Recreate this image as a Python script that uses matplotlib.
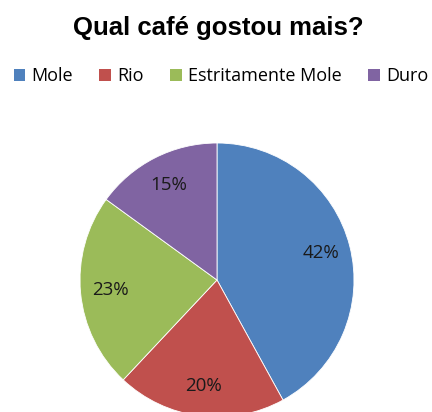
import matplotlib.pyplot as plt
from matplotlib.patches import Patch

# dados do gráfico
categorias = ['Mole', 'Rio', 'Estritamente Mole', 'Duro']
valores = [42, 20, 23, 15]
cores = ['#4F81BD', '#C0504D', '#9BBB59', '#8064A2']

plt.rcParams['font.family'] = ['Open Sans', 'DejaVu Sans']

fig = plt.figure(figsize=(4.32, 4.12), dpi=100)
W, H = 432, 412
cx, cy, r = 217, 280, 137
ax = fig.add_axes([(cx - r) / W, (H - cy - r) / H, 2 * r / W, 2 * r / H])

wedges, textos, pcts = ax.pie(valores, colors=cores, startangle=90, counterclock=False,
                              autopct='%d%%', pctdistance=0.78, radius=1,
                              wedgeprops=dict(edgecolor='white', linewidth=0.6),
                              textprops=dict(fontsize=13.5, color='#1a1a1a'))
ax.set_xlim(-1, 1)
ax.set_ylim(-1, 1)
ax.set_aspect('equal')

fig.text(218 / W, 1 - 28 / H, 'Qual café gostou mais?', ha='center', va='center',
         fontsize=18.5, fontweight='bold', family=['Liberation Sans', 'DejaVu Sans'])

handles = [Patch(facecolor=c, edgecolor='none') for c in cores]
fig.legend(handles, categorias, loc='center', bbox_to_anchor=(221 / W, 1 - 76 / H),
           ncol=4, frameon=False, fontsize=13, handlelength=0.65, handleheight=0.65,
           handletextpad=0.35, columnspacing=1.45, borderaxespad=0)

fig.savefig('out.png', dpi=100)
